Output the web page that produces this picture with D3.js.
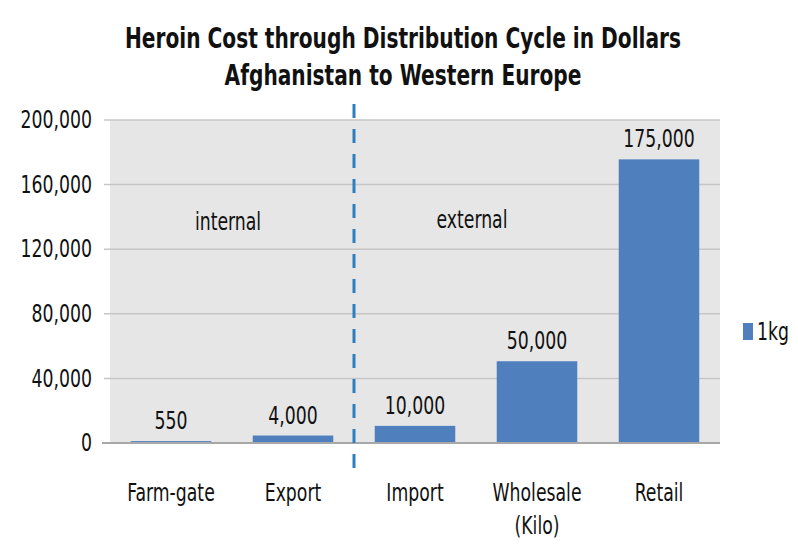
<!DOCTYPE html>
<html>
<head>
<meta charset="utf-8">
<script src="https://cdn.jsdelivr.net/npm/d3@7"></script>
<style>
  body { margin: 0; background: #fff; }
  svg text { font-family: "DejaVu Sans Condensed", "DejaVu Sans", sans-serif; fill: #111; }
</style>
</head>
<body>
<svg width="798" height="547"></svg>
<script>
var categories = ["Farm-gate", "Export", "Import", "Wholesale\n(Kilo)", "Retail"];
var values = [550, 4000, 10000, 50000, 175000];
var valueLabels = ["550", "4,000", "10,000", "50,000", "175,000"];
var yTicks = [0, 40000, 80000, 120000, 160000, 200000];
var seriesName = "1kg";
var titleLines = ["Heroin Cost through Distribution Cycle in Dollars", "Afghanistan to Western Europe"];

// squeeze text horizontally to look like the narrow font of the original
function condense(sel, f) {
    sel.each(function() {
        var w = this.getComputedTextLength();
        d3.select(this).attr("textLength", w * f).attr("lengthAdjust", "spacingAndGlyphs");
    });
}

function main() {
    var svg = d3.select("svg");
    var margin = {left: 110, right: 78, top: 120, bottom: 104};
    var width = 798 - margin.left - margin.right,
        height = 547 - margin.top - margin.bottom;

    var x = d3.scaleBand().domain(categories).range([0, width]).paddingInner(0.34).paddingOuter(0.17);
    var y = d3.scaleLinear().domain([0, 200000]).range([height, 0]);

    // title
    var title = svg.selectAll(".title").data(titleLines).enter().append("text")
        .attr("class", "title")
        .attr("x", 403).attr("y", function(d, i) { return 48 + i * 37; })
        .attr("text-anchor", "middle")
        .style("font-size", "28px").style("font-weight", "bold")
        .text(function(d) { return d; });
    condense(title, 0.8);

    var g = svg.append("g").attr("transform", "translate(" + margin.left + "," + margin.top + ")");

    // plot background
    g.append("rect").attr("width", width).attr("height", height).attr("fill", "#e6e6e6");

    // gridlines
    g.selectAll(".grid").data(yTicks.filter(function(d) { return d > 0; })).enter().append("line")
        .attr("x1", -6).attr("x2", width)
        .attr("y1", function(d) { return y(d); }).attr("y2", function(d) { return y(d); })
        .attr("stroke", "#c6c6c6").attr("stroke-width", 1.5);

    // y axis labels
    var yAxis = d3.axisLeft(y).tickValues(yTicks).tickSize(0).tickPadding(18)
        .tickFormat(d3.format(","));
    var ya = g.append("g").call(yAxis);
    ya.select(".domain").remove();
    ya.selectAll("text").style("font-size", "24px")
        .style("font-family", "'DejaVu Sans Condensed', 'DejaVu Sans', sans-serif")
        .attr("fill", "#111");
    condense(ya.selectAll("text"), 0.8);

    // zero axis line
    g.append("line").attr("x1", -8).attr("x2", width)
        .attr("y1", height).attr("y2", height)
        .attr("stroke", "#a8a8a8").attr("stroke-width", 2);

    // bars
    g.selectAll(".bar").data(values).enter().append("rect")
        .attr("class", "bar")
        .attr("x", function(d, i) { return x(categories[i]); })
        .attr("width", x.bandwidth())
        .attr("y", function(d) { return y(d) - 1; })
        .attr("height", function(d) { return height - y(d); })
        .attr("fill", "#4f7fbd");

    // value labels
    var vl = g.selectAll(".vlabel").data(values).enter().append("text")
        .attr("x", function(d, i) { return x(categories[i]) + x.bandwidth() / 2; })
        .attr("y", function(d) { return y(d) - 13; })
        .attr("text-anchor", "middle")
        .style("font-size", "24px")
        .text(function(d, i) { return valueLabels[i]; });
    condense(vl, 0.8);

    // x labels
    var xl = g.selectAll(".xlabel").data(categories).enter().append("text")
        .attr("text-anchor", "middle")
        .attr("transform", function(d) { return "translate(" + (x(d) + x.bandwidth() / 2) + "," + (height + 58) + ")"; })
        .style("font-size", "24px");
    xl.each(function(d) {
        var parts = d.split("\n");
        var t = d3.select(this);
        parts.forEach(function(p, i) {
            t.append("tspan").attr("x", 0).attr("dy", i === 0 ? 0 : 33).text(p);
        });
    });
    condense(xl.selectAll("tspan"), 0.8);

    // divider between internal and external
    var divX = x(categories[2]) - x.step() * x.paddingInner() / 2;
    g.append("line")
        .attr("x1", divX).attr("x2", divX)
        .attr("y1", -16).attr("y2", height + 32)
        .attr("stroke", "#2e7fc0").attr("stroke-width", 3)
        .attr("stroke-dasharray", "14,11");

    // region notes
    var c = function(i) { return x(categories[i]) + x.bandwidth() / 2; };
    var notes = g.selectAll(".note").data([["internal", 0, 1, 110], ["external", 2, 3, 108]]).enter().append("text")
        .attr("x", function(d) { return (c(d[1]) + c(d[2])) / 2 - 4; })
        .attr("y", function(d) { return d[3]; })
        .attr("text-anchor", "middle").style("font-size", "24px")
        .text(function(d) { return d[0]; });
    condense(notes, 0.8);

    // legend
    var lg = svg.append("g").attr("transform", "translate(743,323)");
    lg.append("rect").attr("width", 10).attr("height", 17).attr("fill", "#4f7fbd");
    var lt = lg.append("text").attr("x", 14).attr("y", 17).style("font-size", "24px").text(seriesName);
    condense(lt, 0.8);
}
main();
</script>
</body>
</html>
